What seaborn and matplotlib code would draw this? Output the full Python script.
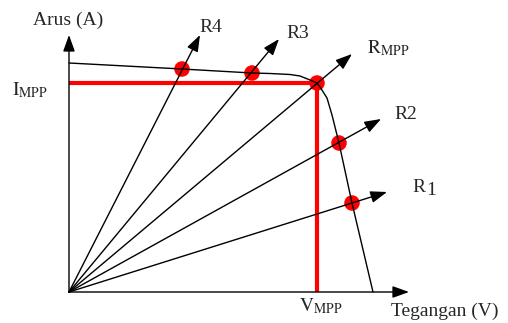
import matplotlib
matplotlib.use("Agg")
import matplotlib.pyplot as plt
import seaborn as sns
import pandas as pd

# I-V curve (voltage, current)
curve_v = [0.0, 11.3, 18.3, 20.1, 22.1, 23.1, 24.1, 24.8, 25.1, 25.8, 26.3, 26.8, 27.0, 28.3, 30.4]
curve_i = [22.9, 22.3, 21.9, 21.85, 21.75, 21.6, 21.2, 20.9, 20.5, 19.4, 17.7, 15.7, 14.9, 8.9, 0.0]

# load lines: names, operating points, arrow tips
load_names = ["R4", "R3", "RMPP", "R2", "R1"]
op_v = [11.3, 18.3, 24.8, 27.0, 28.3]
op_i = [22.3, 21.9, 20.9, 14.9, 8.9]
tip_v = [13.1, 21.0, 28.3, 31.2, 31.8]
tip_i = [25.7, 25.3, 23.8, 17.3, 10.0]

v_mpp = 24.8
i_mpp = 20.9
v_axis_end = 34.0
i_axis_end = 25.7

sns.set_style("white")
plt.rcParams["font.family"] = ["Liberation Serif", "DejaVu Serif"]
plt.rcParams["mathtext.fontset"] = "stix"

fig = plt.figure(figsize=(5.08, 3.23), dpi=100)
ax = fig.add_axes([0, 0, 1, 1])
ax.set_xlim(-6.9, 43.9)
ax.set_ylim(-3.1, 29.2)
ax.axis("off")

# red MPP lines
ax.plot([0, v_mpp], [i_mpp, i_mpp], color="#ff0000", lw=3, zorder=2, solid_capstyle="butt")
ax.plot([v_mpp, v_mpp], [0, i_mpp], color="#ff0000", lw=3, zorder=2, solid_capstyle="butt")

# operating points
dots = pd.DataFrame({"v": op_v, "i": op_i})
sns.scatterplot(data=dots, x="v", y="i", ax=ax, color="#ff0000", s=125,
                edgecolor="none", zorder=3, legend=False)

# I-V curve
cdf = pd.DataFrame({"v": curve_v, "i": curve_i})
sns.lineplot(data=cdf, x="v", y="i", ax=ax, sort=False, color="black", lw=1, zorder=4)

arrow = dict(arrowstyle="-|>,head_length=0.5,head_width=0.18", color="black",
             lw=1, shrinkA=0, shrinkB=0, mutation_scale=20)
# axes
ax.annotate("", xy=(v_axis_end, 0), xytext=(0, 0), arrowprops=arrow, zorder=5)
ax.annotate("", xy=(0, i_axis_end), xytext=(0, 0), arrowprops=arrow, zorder=5)
# load lines
for tv, ti in zip(tip_v, tip_i):
    ax.annotate("", xy=(tv, ti), xytext=(0, 0), arrowprops=arrow, zorder=5)

fs = 14
ax.text(-3.6, 26.7, "Arus (A)", fontsize=fs, ha="left", va="baseline")
ax.text(32.2, -2.4, "Tegangan (V)", fontsize=fs, ha="left", va="baseline")
ax.text(-5.7, 19.7, r"$\mathrm{I_{MPP}}$", fontsize=fs, ha="left", va="baseline")
ax.text(23.0, -1.9, r"$\mathrm{V_{MPP}}$", fontsize=fs, ha="left", va="baseline")
ax.text(13.0, 26.0, "R4", fontsize=fs, ha="left", va="baseline")
ax.text(21.7, 25.4, "R3", fontsize=fs, ha="left", va="baseline")
ax.text(29.8, 23.9, r"$\mathrm{R_{MPP}}$", fontsize=fs, ha="left", va="baseline")
ax.text(32.5, 17.3, "R2", fontsize=fs, ha="left", va="baseline")
ax.text(34.3, 10.0, "R", fontsize=fs, ha="left", va="baseline")
ax.text(35.75, 9.7, "1", fontsize=fs, ha="left", va="baseline")

fig.savefig("out.png", dpi=100)
